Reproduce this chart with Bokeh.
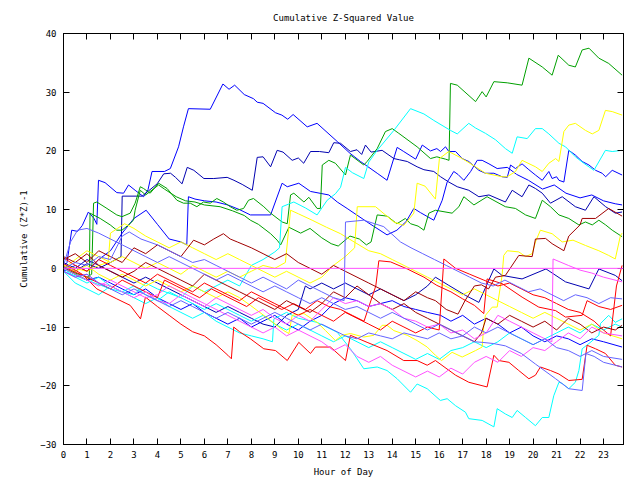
from bokeh.plotting import figure
from bokeh.models import Range1d, LinearAxis, FixedTicker, Span
from bokeh.embed import file_html
from bokeh.resources import INLINE

FONT = "DejaVu Sans Mono"

# ---- data (hour, value) vertices of each series ----
b1_h = [0, 0.15, 0.35, 0.6, 0.8, 1.06, 1.3, 1.42, 1.49, 1.77, 2.27, 2.56, 2.77, 3.05, 3.41, 3.6, 3.77, 4.3, 4.55, 4.9, 5.11, 5.32, 6.25, 6.79, 7.05, 7.29, 7.7, 8.09, 8.25, 8.5, 9.03, 9.3, 9.55, 9.78, 10.38, 10.8, 11.66, 12.2, 12.65, 13.36, 13.78, 14.21, 14.49, 15.0, 15.28, 15.63, 15.9, 16.06, 16.27, 16.41, 16.7, 16.98, 17.26, 17.69, 17.97, 18.33, 18.68, 18.9, 19.04, 19.25, 19.53, 19.82, 20.1, 20.39, 20.67, 20.81, 21.0, 21.1, 21.31, 21.52, 21.8, 22.09, 22.38, 22.66, 22.94, 23.09, 23.37, 23.79]
b1_v = [0.3, 1.0, 6.5, 6.3, 7.3, 9.6, 8.5, 7.5, 15.0, 14.6, 12.9, 12.8, 14.2, 13.3, 12.2, 13.4, 16.5, 16.5, 17.0, 20.7, 24.1, 27.2, 27.1, 31.4, 30.5, 31.2, 29.6, 28.9, 28.3, 28.1, 26.5, 26.1, 25.4, 26.2, 24.1, 24.7, 21.6, 19.6, 18.2, 16.2, 15.0, 20.6, 19.9, 18.6, 21.0, 20.0, 20.4, 19.9, 20.7, 19.9, 19.9, 18.7, 18.2, 16.7, 16.2, 16.2, 15.6, 15.5, 17.6, 17.0, 17.8, 16.8, 15.9, 15.0, 16.5, 15.3, 15.6, 15.0, 14.7, 20.1, 19.3, 18.2, 17.6, 16.7, 16.2, 15.6, 16.7, 15.9]

b2_h = [0, 0.5, 1.0, 1.5, 2.0, 2.45, 2.5, 3.35, 3.99, 4.27, 4.56, 4.77, 5.05, 5.27, 5.55, 5.98, 6.4, 6.97, 7.26, 7.61, 8.04, 8.25, 8.5, 8.82, 9.1, 9.35, 9.74, 10.0, 10.23, 10.52, 10.9, 11.3, 11.51, 11.8, 12.22, 12.5, 12.7, 12.86, 13.1, 13.57, 14.07, 14.3, 14.64, 15.06, 15.35, 15.77, 16.06, 16.41, 16.77, 17.26, 17.69, 18.12, 18.82, 19.11, 19.53, 19.82, 20.1, 20.39, 20.74, 21.24, 21.8, 22.23, 22.59, 23.09, 23.5, 23.79]
b2_v = [0.5, -0.5, 0.8, 0.0, 1.0, 2.0, 12.3, 12.3, 14.4, 16.1, 16.2, 15.5, 14.4, 17.2, 16.7, 15.3, 15.3, 15.5, 15.0, 14.3, 13.3, 18.9, 19.0, 17.3, 20.1, 19.8, 18.4, 18.8, 17.9, 19.9, 19.9, 19.7, 21.4, 21.3, 19.9, 20.2, 19.4, 21.0, 19.8, 20.1, 18.7, 18.5, 18.2, 17.3, 16.8, 16.5, 15.6, 14.7, 13.9, 13.3, 12.2, 12.5, 11.3, 13.3, 12.2, 14.2, 13.6, 12.8, 11.1, 12.2, 10.5, 9.9, 12.2, 10.5, 9.4, 9.6]

b3_h = [0, 0.5, 1.0, 1.5, 2.0, 2.5, 3.0, 3.52, 4.0, 4.5, 5.0, 5.25, 5.32, 5.6, 6.0, 6.5, 7.0, 7.5, 7.96, 8.82, 9.31, 9.53, 10.02, 10.52, 11.3, 11.66, 12.08, 12.93, 13.78, 14.2, 14.6, 14.92, 15.2, 15.77, 16.13, 16.34, 16.62, 16.8, 17.05, 17.34, 17.62, 17.83, 18.12, 18.47, 18.9, 19.3, 19.8, 20.4, 20.9, 21.4, 22.0, 22.5, 23.0, 23.5, 23.79]
b3_v = [-0.5, 0.5, -0.5, 1.5, 3.0, 6.0, 8.5, 9.9, 7.5, 5.0, 4.5, 4.0, 12.2, 11.8, 11.5, 11.3, 10.8, 10.0, 9.1, 9.1, 14.5, 13.9, 14.5, 13.1, 12.5, 11.3, 10.2, 7.9, 5.7, 6.5, 8.0, 10.2, 9.5, 8.2, 11.6, 14.7, 16.5, 16.0, 15.0, 16.5, 18.4, 18.4, 17.8, 17.0, 17.2, 16.0, 15.0, 13.5, 14.2, 12.8, 12.0, 12.5, 11.5, 11.0, 10.8]

b4_h = [0, 0.5, 1.0, 1.5, 2.0, 2.5, 3.0, 3.5, 4.0, 4.5, 5.0, 5.5, 6.0, 6.5, 7.0, 7.5, 8.0, 8.5, 9.0, 9.5, 10.0, 10.3, 10.5, 11.0, 11.5, 12.0, 12.5, 13.0, 13.5, 14.0, 14.5, 15.0, 15.5, 15.84, 16.41, 17.12, 17.69, 18.33, 18.68, 19.53, 20.55, 21.38, 22.38, 22.8, 23.5, 23.79]
b4_v = [1.0, 0.0, 1.5, 0.5, -0.5, -1.5, -2.5, -1.5, -2.5, -3.5, -4.5, -5.5, -6.5, -7.5, -6.5, -7.5, -8.5, -9.5, -10.0, -8.0, -7.0, -3.0, -3.5, -2.5, -3.5, -2.5, -3.5, -4.5, -3.5, -4.5, -5.5, -4.5, -3.0, -1.5, -2.9, -4.6, -5.8, -0.1, -1.2, -1.8, -0.1, -2.3, -3.5, -0.1, -1.2, -2.1]

b5_h = [0, 0.5, 1.0, 1.5, 2.0, 2.5, 3.0, 3.5, 4.0, 4.5, 5.0, 5.5, 6.0, 6.5, 7.0, 7.5, 8.0, 8.5, 9.0, 9.5, 10.0, 10.5, 11.0, 11.5, 12.0, 12.5, 13.0, 13.5, 14.0, 14.5, 15.0, 15.5, 16.06, 16.5, 17.0, 17.5, 18.0, 18.5, 19.0, 19.5, 20.0, 20.5, 21.0, 21.5, 22.0, 22.5, 23.0, 23.79]
b5_v = [0.0, -1.0, -2.0, -1.5, -2.5, -3.5, -4.5, -3.5, -5.0, -6.0, -7.0, -6.0, -7.5, -8.5, -9.5, -8.5, -10.0, -9.0, -8.0, -9.5, -10.5, -9.0, -8.0, -6.0, -5.0, -5.5, -6.5, -6.0, -5.5, -6.5, -7.0, -7.5, -8.0, -9.0, -8.0, -9.5, -8.5, -9.5, -11.0, -10.0, -11.5, -12.5, -11.5, -12.0, -13.0, -12.0, -12.5, -13.4]

g1_h = [0, 0.5, 1.0, 1.2, 1.28, 1.42, 1.85, 2.27, 2.49, 2.84, 3.05, 3.27, 3.41, 3.69, 4.05, 4.41, 4.83, 5.11, 5.4, 5.68, 5.96, 6.25, 6.53, 6.81, 7.1, 7.38, 7.67, 7.88, 8.09, 8.53, 8.82, 9.31, 9.53, 9.67, 9.81, 10.24, 10.45, 10.8, 10.94, 11.02, 11.3, 11.58, 12.01, 12.22, 12.79, 12.93, 13.36, 13.71, 14.0, 14.28, 15.06, 15.63, 15.9, 16.27, 16.42, 16.48, 16.77, 17.55, 17.83, 18.0, 18.33, 18.9, 19.53, 19.82, 20.39, 20.81, 21.07, 21.52, 21.8, 22.09, 22.38, 22.8, 23.22, 23.79]
g1_v = [0.0, -0.8, -1.5, -1.0, 11.1, 11.3, 10.2, 9.1, 8.8, 9.4, 11.1, 13.9, 13.6, 12.8, 14.5, 13.6, 11.6, 11.1, 11.1, 10.5, 11.3, 11.1, 11.9, 11.3, 10.5, 9.9, 10.2, 11.6, 11.9, 10.5, 9.4, 7.9, 7.6, 12.5, 12.8, 11.3, 12.1, 10.2, 10.2, 17.6, 18.4, 17.9, 15.9, 19.3, 17.6, 18.2, 20.4, 23.3, 23.8, 23.0, 20.7, 18.7, 19.0, 18.6, 18.4, 31.5, 31.2, 28.4, 30.1, 29.2, 31.8, 31.6, 31.2, 35.8, 34.3, 32.9, 36.3, 34.6, 34.3, 37.2, 37.5, 35.8, 34.9, 32.9]

g2_h = [0, 0.5, 1.0, 1.1, 1.13, 1.56, 1.99, 2.27, 2.49, 2.77, 2.98, 3.05, 3.27, 3.5, 4.05, 4.3, 4.8, 5.2, 5.6, 6.0, 6.67, 7.2, 7.7, 7.96, 8.3, 8.82, 9.1, 9.25, 9.6, 10.1, 10.5, 11.0, 11.4, 11.7, 12.2, 12.6, 12.9, 13.1, 13.36, 13.78, 14.2, 14.56, 14.78, 15.1, 15.35, 15.56, 15.84, 16.55, 16.84, 17.05, 17.48, 18.04, 18.82, 19.25, 19.68, 20.1, 20.39, 20.74, 21.1, 21.52, 21.95, 22.23, 22.52, 22.8, 23.09, 23.37, 23.79]
g2_v = [0.0, -1.0, -2.0, -1.5, 9.4, 8.5, 7.4, 6.5, 6.5, 7.4, 8.2, 9.9, 13.3, 12.5, 14.2, 13.5, 12.2, 11.5, 11.3, 10.8, 10.5, 9.8, 9.0, 8.2, 7.5, 5.9, 4.8, 4.0, 7.0, 6.0, 6.8, 5.2, 4.2, 3.8, 5.5, 5.0, 4.0, 4.5, 9.1, 8.9, 7.6, 8.5, 7.6, 7.2, 6.5, 9.4, 9.9, 9.4, 10.5, 12.2, 10.8, 12.2, 10.5, 10.2, 9.1, 8.5, 11.6, 10.5, 9.1, 8.5, 7.4, 7.9, 7.4, 8.2, 7.4, 6.5, 5.4]

c1_h = [0, 1.0, 2.0, 3.0, 3.5, 4.0, 5.0, 5.5, 6.0, 7.0, 7.5, 8.0, 8.5, 9.0, 9.2, 9.31, 9.81, 10.3, 10.8, 11.23, 11.58, 11.8, 12.01, 12.3, 12.79, 13.0, 13.36, 14.07, 14.78, 15.35, 15.77, 16.48, 16.77, 17.26, 17.55, 17.97, 18.4, 18.82, 19.11, 19.32, 19.75, 20.1, 20.39, 20.67, 21.1, 21.38, 21.8, 22.16, 22.59, 23.08, 23.37, 23.79]
c1_v = [-0.5, -2.0, -3.5, -4.5, -2.5, -3.5, -5.0, -3.0, -4.0, -2.0, -3.0, 0.5, 1.5, 2.8, 3.5, 10.5, 11.3, 10.3, 9.1, 11.6, 12.7, 13.8, 17.2, 16.3, 15.3, 18.1, 20.1, 23.5, 27.2, 26.3, 25.2, 23.5, 22.9, 24.7, 23.9, 23.0, 21.9, 20.4, 19.6, 22.4, 22.1, 23.8, 23.8, 22.9, 21.3, 20.7, 19.0, 17.9, 16.7, 20.1, 19.9, 20.1]

c2_h = [0, 0.5, 1.0, 1.5, 2.0, 2.5, 3.0, 3.5, 4.0, 4.5, 5.0, 5.5, 6.0, 6.5, 7.0, 7.5, 8.0, 8.5, 8.9, 8.96, 9.5, 10.0, 10.8, 11.66, 12.22, 12.79, 13.36, 13.78, 14.21, 14.78, 15.06, 15.49, 16.05, 16.34, 16.7, 17.12, 17.26, 17.83, 18.33, 18.47, 18.82, 19.11, 19.32, 19.68, 20.1, 20.39, 20.67, 20.88, 21.1, 21.24, 21.52, 21.8, 21.95, 22.09, 22.38, 22.8, 22.87, 23.22, 23.5, 23.79]
c2_v = [-0.5, -2.5, -3.5, -4.5, -3.0, -4.0, -5.0, -6.0, -5.0, -6.5, -7.5, -8.5, -7.5, -9.0, -10.0, -11.0, -11.5, -12.0, -12.5, -8.6, -7.5, -8.5, -9.2, -10.9, -13.7, -17.1, -16.8, -17.4, -18.8, -21.1, -19.7, -20.5, -22.5, -22.2, -23.4, -24.5, -25.6, -25.9, -27.0, -23.9, -24.8, -25.4, -24.2, -25.4, -26.8, -25.4, -25.4, -21.7, -19.4, -19.6, -20.5, -19.4, -17.4, -13.7, -12.8, -11.4, -9.4, -8.0, -9.2, -8.6]

c3_h = [0, 0.5, 1.0, 1.5, 2.0, 2.5, 3.0, 3.5, 4.0, 4.5, 5.0, 5.5, 6.0, 6.5, 7.0, 7.5, 8.0, 8.5, 9.0, 9.5, 10.0, 10.5, 11.0, 11.5, 12.0, 12.5, 13.0, 13.5, 14.0, 14.5, 15.0, 15.5, 16.0, 16.5, 17.0, 17.5, 18.0, 18.5, 19.0, 19.5, 20.0, 20.5, 21.0, 21.5, 22.0, 22.5, 23.0, 23.5, 23.79]
c3_v = [0.0, -1.5, -2.5, -1.5, -3.0, -4.0, -3.0, -4.5, -5.5, -4.0, -5.0, -6.0, -7.0, -6.0, -7.0, -8.0, -9.0, -8.0, -9.5, -10.5, -9.5, -10.5, -11.5, -12.5, -11.5, -12.5, -13.5, -12.5, -13.5, -14.5, -15.5, -14.5, -15.5, -14.0, -13.5, -12.5, -13.5, -12.5, -11.0, -12.0, -13.0, -12.0, -11.0, -10.0, -11.0, -9.5, -10.5, -9.5, -10.0]

y1_h = [0, 0.5, 1.0, 1.5, 1.9, 2.0, 2.3, 2.6, 3.0, 3.5, 4.0, 4.5, 5.0, 5.5, 6.0, 6.5, 7.0, 7.5, 8.0, 8.5, 9.0, 9.5, 10.0, 10.5, 11.0, 11.5, 12.0, 12.4, 12.51, 13.29, 14.07, 14.49, 14.92, 15.06, 15.4, 15.84, 16.01, 16.41, 16.98, 17.55, 17.97, 18.68, 18.9, 19.25, 19.53, 20.1, 20.39, 20.67, 20.96, 21.1, 21.31, 21.52, 21.8, 22.23, 22.52, 22.8, 23.08, 23.37, 23.79]
y1_v = [0.5, 0.0, -0.5, 0.5, 1.0, 6.0, 6.8, 7.6, 6.8, 5.5, 4.5, 3.5, 4.5, 3.5, 2.5, 1.5, 2.5, 1.5, 0.5, -0.5, -1.5, -0.5, -1.5, -2.5, -1.5, 0.5, 2.0, 3.5, 10.5, 10.5, 7.9, 7.3, 9.4, 14.5, 14.0, 11.8, 18.7, 19.9, 18.7, 17.3, 16.2, 15.6, 15.6, 16.5, 18.4, 17.3, 16.5, 17.9, 18.7, 18.2, 23.3, 24.4, 24.7, 23.5, 22.9, 23.5, 26.9, 26.7, 26.1]

y2_h = [0, 0.5, 1.0, 1.5, 2.0, 2.5, 3.0, 3.5, 4.0, 4.5, 5.0, 5.5, 6.0, 6.5, 7.0, 7.5, 8.0, 8.5, 9.0, 9.45, 9.67, 10.0, 10.59, 11.2, 11.8, 12.5, 13.0, 13.5, 14.0, 14.5, 15.0, 15.5, 16.0, 16.5, 17.0, 17.5, 18.0, 18.5, 19.0, 19.5, 20.0, 20.5, 21.0, 21.5, 22.0, 22.5, 23.0, 23.79]
y2_v = [0.0, 1.5, 3.0, 2.0, 1.0, 2.0, 1.0, 0.0, 1.0, 0.0, -1.0, 0.5, -0.5, -1.5, -0.5, -1.5, -0.5, 0.5, 0.0, 1.0, 9.9, 9.3, 8.2, 7.0, 5.9, 4.2, 3.0, 2.5, 1.5, 0.5, -0.5, -1.5, -2.5, -3.5, -4.5, -3.5, -4.5, -5.5, -6.5, -7.5, -8.5, -7.5, -8.5, -9.5, -10.5, -9.5, -11.0, -12.0]

y3_h = [0, 0.5, 1.0, 1.5, 2.0, 2.5, 3.0, 3.5, 4.0, 4.5, 5.0, 5.5, 6.0, 6.5, 7.0, 7.5, 7.96, 8.82, 9.38, 9.6, 9.74, 10.24, 10.8, 11.16, 11.58, 11.87, 12.22, 12.79, 13.22, 13.57, 13.78, 14.07, 14.64, 15.06, 15.49, 15.84, 16.1, 16.55, 16.98, 17.55, 17.83, 17.9, 17.97, 18.26, 18.47, 18.68, 18.75, 18.9, 19.39, 19.68, 19.96, 20.1, 20.31, 20.81, 21.24, 21.7, 22.23, 22.8, 23.22, 23.5, 23.72, 23.79]
y3_v = [0.5, -0.5, 0.5, -1.0, -2.0, -1.0, -2.0, -3.0, -2.0, -3.0, -4.0, -3.0, -4.0, -5.0, -4.0, -5.0, -6.3, -8.9, -10.6, -11.1, -8.0, -7.7, -9.2, -10.6, -12.3, -11.4, -11.1, -11.7, -11.4, -9.7, -9.7, -10.6, -11.4, -12.3, -13.4, -14.8, -15.7, -14.3, -15.1, -14.0, -13.4, -9.7, -8.0, -6.6, -6.6, -1.2, 2.2, 3.0, 2.8, 2.0, 2.5, 4.5, 6.5, 5.9, 4.5, 4.8, 3.9, 3.0, 2.2, 1.6, 5.6, 6.0]

r1_h = [0, 0.4, 0.85, 1.42, 2.27, 2.84, 3.28, 3.49, 4.0, 4.5, 5.0, 5.5, 6.0, 6.5, 7.0, 7.15, 7.25, 7.5, 7.96, 8.53, 9.03, 9.53, 10.02, 10.52, 10.73, 11.37, 12.01, 12.22, 12.93, 13.78, 14.49, 15.06, 15.49, 15.84, 16.7, 17.26, 18.04, 18.33, 18.54, 18.97, 19.39, 19.82, 20.1, 20.31, 20.74, 21.1, 21.52, 22.09, 22.3, 22.66, 23.08, 23.5, 23.79]
r1_v = [0.3, -0.5, -1.2, -3.5, -5.2, -6.3, -8.6, -4.9, -6.5, -8.0, -9.5, -10.8, -11.5, -13.0, -14.8, -15.4, -10.0, -10.8, -12.0, -13.7, -14.0, -15.7, -12.6, -14.5, -13.4, -13.4, -15.7, -11.4, -12.6, -14.0, -15.7, -15.7, -16.5, -15.7, -18.2, -19.4, -20.2, -14.8, -15.7, -16.0, -17.4, -18.8, -18.2, -16.8, -17.4, -18.0, -19.1, -18.9, -13.1, -13.7, -14.5, -16.5, -16.8]

r2_h = [0, 0.5, 1.0, 1.5, 2.0, 2.5, 3.0, 3.5, 4.0, 4.3, 4.8, 5.3, 5.8, 6.3, 6.8, 7.3, 7.8, 8.3, 8.8, 9.3, 9.8, 10.3, 10.8, 11.3, 11.8, 12.3, 12.8, 13.3, 13.43, 13.93, 14.64, 15.35, 15.9, 16.5, 17.0, 17.5, 17.9, 18.04, 18.68, 19.53, 20.24, 20.96, 21.38, 22.09, 22.3, 22.8, 23.3, 23.79]
r2_v = [0.8, -0.3, -1.5, -2.5, -3.5, -2.0, -3.0, -4.0, -5.0, -2.0, -3.0, -4.0, -5.0, -3.5, -4.5, -5.5, -6.5, -5.0, -6.0, -7.0, -6.0, -7.0, -5.5, -6.5, -7.0, -8.0, -9.0, -3.0, 1.3, 1.1, -0.1, -1.5, -2.9, -4.0, -5.2, -6.3, -7.7, -1.8, -2.6, -4.9, -6.6, -7.2, -8.3, -8.0, -5.5, -6.5, -7.0, -6.3]

r3_h = [0, 0.5, 1.0, 1.5, 2.0, 2.5, 3.0, 3.5, 4.0, 4.5, 5.0, 5.5, 6.0, 6.5, 7.0, 7.5, 8.0, 8.5, 9.0, 9.5, 10.0, 10.5, 11.0, 11.5, 12.0, 12.5, 13.0, 13.5, 14.0, 14.5, 15.0, 15.5, 16.0, 16.2, 16.7, 17.3, 17.9, 18.5, 19.0, 19.5, 20.0, 20.5, 21.0, 21.5, 22.0, 22.6, 23.0, 23.3, 23.55, 23.79]
r3_v = [1.8, 0.5, -0.5, 1.5, 0.5, -0.5, -1.5, -2.5, -1.0, -2.0, -3.0, -4.0, -2.5, -3.5, -4.5, -5.5, -4.0, -5.0, -6.0, -7.0, -8.0, -7.0, -8.0, -9.0, -7.5, -8.5, -9.5, -10.5, -9.0, -10.0, -11.0, -10.0, -10.5, 1.6, 0.0, -1.0, -2.0, -3.0, -2.5, -3.5, -4.5, -5.0, -6.0, -7.0, -7.5, -9.0, -10.5, -11.5, -3.0, 0.5]

dr1_h = [0, 0.5, 1.0, 1.5, 2.0, 2.5, 3.0, 3.5, 4.0, 4.5, 5.0, 5.54, 6.0, 6.4, 6.81, 7.1, 7.4, 8.0, 8.5, 9.0, 9.5, 10.0, 10.5, 11.0, 11.5, 12.0, 12.5, 13.0, 13.5, 14.0, 14.5, 15.0, 15.5, 15.84, 16.3, 16.8, 17.1, 17.5, 17.8, 18.1, 18.4, 18.82, 19.39, 19.96, 20.1, 20.53, 20.81, 21.31, 21.52, 22.0, 22.09, 22.66, 23.22, 23.79]
dr1_v = [1.5, 2.5, 1.0, 3.0, 2.0, 1.0, 3.5, 2.5, 4.0, 3.0, 2.0, 4.8, 4.0, 5.0, 5.9, 5.0, 4.5, 3.5, 2.5, 1.5, 2.5, 1.0, 0.0, -1.0, 0.5, -0.5, -1.5, -2.5, -3.5, -4.5, -5.5, -4.0, -5.0, -5.5, -7.0, -7.8, -5.5, -3.0, -2.8, -3.5, -1.5, -1.2, 2.2, 2.0, 5.0, 5.1, 4.2, 3.0, 5.5, 7.4, 8.5, 8.5, 10.2, 8.9]

dr2_h = [0, 0.5, 1.0, 1.5, 2.0, 2.5, 3.0, 3.5, 4.0, 4.5, 5.0, 5.5, 6.0, 6.5, 7.0, 7.5, 8.0, 8.5, 9.0, 9.5, 10.0, 10.5, 11.0, 11.5, 12.0, 12.5, 13.0, 13.5, 14.0, 14.5, 15.0, 15.5, 16.0, 16.5, 17.0, 17.5, 17.8, 18.0, 18.5, 19.0, 19.5, 20.0, 20.5, 21.0, 21.5, 22.0, 22.5, 23.0, 23.5, 23.79]
dr2_v = [2.0, 1.0, 2.5, 0.5, -0.5, -1.5, -0.5, 1.0, 0.0, -1.0, -2.0, -3.0, -1.0, -2.0, -3.0, -4.0, -5.0, -6.0, -7.0, -5.5, -6.5, -7.5, -6.0, -4.0, -5.0, -3.0, -4.5, -6.0, -7.0, -6.0, -7.5, -8.5, -9.5, -10.5, -11.5, -12.5, -11.0, -8.5, -9.5, -8.0, -9.0, -10.0, -9.0, -10.5, -8.5, -9.5, -11.0, -10.0, -10.5, -9.7]

m1_h = [0, 0.5, 1.0, 1.5, 2.0, 2.5, 3.0, 3.5, 4.0, 4.5, 5.0, 5.5, 6.0, 6.5, 7.0, 7.5, 8.0, 8.5, 9.0, 9.5, 10.0, 10.5, 11.0, 11.5, 12.0, 12.5, 13.0, 13.5, 14.0, 14.5, 15.0, 15.5, 16.0, 16.5, 17.0, 17.5, 18.0, 18.5, 19.0, 19.5, 20.0, 20.5, 20.8, 20.85, 21.5, 22.0, 22.5, 23.0, 23.79]
m1_v = [-0.5, -1.5, -1.0, -2.5, -3.0, -4.0, -5.0, -4.0, -5.5, -6.0, -4.5, -5.5, -6.5, -5.0, -6.0, -7.0, -8.0, -7.0, -8.5, -9.5, -8.0, -9.0, -7.0, -5.0, -6.0, -5.5, -6.5, -6.0, -7.0, -8.5, -9.0, -10.0, -9.5, -11.0, -10.5, -12.0, -11.0, -8.0, -9.0, -10.0, -11.0, -12.0, -12.5, 1.6, 0.5, -0.3, -0.8, -1.5, -2.3]

m2_h = [0, 0.5, 1.0, 1.5, 2.0, 2.5, 3.0, 3.5, 4.0, 4.5, 5.0, 5.5, 6.0, 6.5, 7.0, 7.5, 8.0, 8.5, 9.0, 9.5, 10.0, 10.5, 11.0, 11.5, 12.0, 12.5, 13.0, 13.5, 14.0, 14.5, 15.0, 15.5, 16.0, 16.5, 17.0, 17.5, 18.0, 18.5, 19.0, 19.5, 20.0, 20.5, 21.0, 21.5, 22.0, 22.5, 23.0, 23.79]
m2_v = [0.0, -1.0, -2.0, -3.0, -2.0, -3.0, -4.0, -5.0, -4.5, -3.0, -4.0, -5.0, -6.0, -7.0, -8.0, -9.0, -10.0, -11.0, -10.0, -11.5, -10.5, -11.5, -12.5, -14.0, -13.0, -15.0, -16.0, -15.0, -16.5, -17.5, -18.5, -17.5, -18.5, -17.0, -18.0, -16.0, -15.0, -16.0, -14.0, -15.0, -13.5, -14.0, -12.5, -11.0, -12.0, -10.0, -11.0, -11.5]

lb1_h = [0, 0.3, 0.6, 1.0, 1.5, 2.0, 2.5, 3.0, 3.5, 4.0, 4.5, 5.0, 5.5, 6.0, 6.5, 7.0, 7.5, 8.0, 8.5, 9.0, 9.5, 10.0, 10.5, 11.0, 11.5, 12.0, 12.5, 13.0, 13.5, 14.0, 14.5, 15.0, 15.5, 16.0, 16.5, 17.0, 17.5, 18.0, 18.5, 19.0, 19.5, 20.0, 20.5, 21.0, 21.5, 22.0, 22.5, 23.0, 23.79]
lb1_v = [0.5, 4.5, 6.5, 6.8, 6.0, 5.0, 4.0, 3.0, 2.0, 1.0, 2.0, 1.0, 0.0, -1.0, -2.0, -1.0, -2.0, -3.0, -4.0, -3.0, -4.0, -5.0, -6.0, -5.0, -6.0, -7.0, -6.5, -7.5, -8.5, -7.5, -8.5, -9.5, -10.5, -9.5, -10.5, -11.5, -10.0, -11.0, -10.0, -11.0, -12.0, -13.0, -12.0, -13.5, -14.0, -15.0, -14.0, -15.0, -15.5]

lb2_h = [0, 0.5, 1.0, 1.5, 2.0, 2.5, 3.0, 3.5, 4.0, 4.5, 5.0, 5.5, 6.0, 6.5, 7.0, 7.5, 8.0, 8.5, 9.0, 9.5, 10.0, 10.5, 11.0, 11.5, 12.0, 12.5, 13.0, 13.5, 14.0, 14.5, 15.0, 15.5, 16.0, 16.5, 17.0, 17.5, 17.83, 18.3, 18.82, 19.5, 20.1, 20.96, 21.52, 22.09, 22.25, 22.6, 23.0, 23.5, 23.79]
lb2_v = [-0.5, -1.5, -1.0, -2.5, -3.5, -4.5, -3.5, -4.5, -5.5, -6.5, -5.5, -6.5, -7.5, -8.5, -7.5, -8.5, -9.5, -8.5, -7.5, -8.5, -9.5, -10.5, -9.5, -10.5, -11.5, -12.0, -11.0, -11.5, -12.0, -11.0, -11.5, -12.0, -11.0, -12.0, -11.5, -12.5, -12.6, -12.8, -13.2, -14.5, -16.3, -18.8, -20.5, -20.8, -14.5, -15.0, -16.0, -16.5, -16.8]

lb3_h = [0, 0.5, 1.0, 1.5, 2.0, 2.5, 2.8, 3.3, 4.0, 4.5, 5.0, 5.5, 6.0, 6.5, 7.0, 7.5, 8.0, 8.5, 9.0, 9.5, 10.0, 10.5, 11.0, 11.5, 11.95, 12.01, 12.79, 13.64, 14.35, 14.8, 15.3, 15.8, 16.3, 16.8, 17.3, 17.8, 18.3, 18.8, 19.3, 19.8, 20.3, 20.8, 21.3, 21.8, 22.3, 22.8, 23.3, 23.79]
lb3_v = [0.0, 1.0, 0.5, 2.0, 1.5, 5.5, 6.2, 5.0, 4.0, 3.0, 2.0, 1.0, 1.5, 0.5, -0.5, -1.5, -2.5, -1.5, -2.5, -3.5, -2.0, -3.0, -4.0, -5.0, -5.5, 7.9, 8.2, 7.1, 4.5, 3.5, 2.5, 1.5, 0.5, -0.5, -1.5, -2.5, -3.0, -2.0, -3.0, -4.0, -3.5, -4.5, -5.5, -4.5, -5.0, -6.0, -5.0, -5.2]

BLUE = "#0000ff"
NAVY = "#0000b0"
LBLUE = "#6464ff"
GREEN = "#00a000"
CYAN = "#00ffff"
YELLOW = "#ffff00"
RED = "#ff0000"
DRED = "#a00000"
MAGENTA = "#ff50ff"

series = [
    (b1_h, b1_v, BLUE), (b2_h, b2_v, NAVY), (b3_h, b3_v, BLUE), (b4_h, b4_v, NAVY),
    (b5_h, b5_v, BLUE), (g1_h, g1_v, GREEN), (g2_h, g2_v, GREEN),
    (c1_h, c1_v, CYAN), (c2_h, c2_v, CYAN), (c3_h, c3_v, CYAN),
    (y1_h, y1_v, YELLOW), (y2_h, y2_v, YELLOW), (y3_h, y3_v, YELLOW),
    (r1_h, r1_v, RED), (r2_h, r2_v, RED), (r3_h, r3_v, RED),
    (dr1_h, dr1_v, DRED), (dr2_h, dr2_v, DRED),
    (m1_h, m1_v, MAGENTA), (m2_h, m2_v, MAGENTA),
    (lb1_h, lb1_v, LBLUE), (lb2_h, lb2_v, LBLUE), (lb3_h, lb3_v, LBLUE),
]

hour_ticks = list(range(24))
value_ticks = [-30, -20, -10, 0, 10, 20, 30, 40]

p = figure(width=640, height=480, output_backend="svg", toolbar_location=None,
           x_range=Range1d(0, 23.85), y_range=Range1d(-30, 40),
           min_border_left=63, min_border_right=17, min_border_top=33, min_border_bottom=36,
           x_axis_type=None, y_axis_type=None)
p.title.text = "Cumulative Z-Squared Value"
p.title.align = "center"
p.title.text_font = FONT
p.title.text_font_size = "9px"
p.title.text_font_style = "normal"
p.title.text_color = "black"
p.title.standoff = 21
p.xgrid.visible = False
p.ygrid.visible = False
p.outline_line_color = "black"
p.outline_line_width = 1
p.background_fill_color = "white"
p.border_fill_color = "white"

def style_axis(ax, labels=True):
    ax.axis_line_color = "black"
    ax.major_tick_line_color = "black"
    ax.major_tick_in = 6
    ax.major_tick_out = 0
    ax.minor_tick_line_color = None
    ax.major_label_text_font = FONT
    ax.major_label_text_font_size = "9px"
    ax.major_label_text_color = "black"
    ax.axis_label_text_font = FONT
    ax.axis_label_text_font_size = "9px"
    ax.axis_label_text_font_style = "normal"
    ax.axis_label_text_color = "black"
    if not labels:
        ax.major_label_text_font_size = "0px"
        ax.major_label_text_alpha = 0

xb = LinearAxis(ticker=FixedTicker(ticks=hour_ticks), axis_label="Hour of Day")
style_axis(xb)
xb.major_label_standoff = 6
xb.axis_label_standoff = 6
p.add_layout(xb, "below")

xt = LinearAxis(ticker=FixedTicker(ticks=hour_ticks))
style_axis(xt, labels=False)
p.add_layout(xt, "above")

yl = LinearAxis(ticker=FixedTicker(ticks=value_ticks), axis_label="Cumulative (Z*Z)-1")
style_axis(yl)
yl.major_label_standoff = 7
yl.axis_label_standoff = 8
p.add_layout(yl, "left")

yr = LinearAxis(ticker=FixedTicker(ticks=value_ticks))
style_axis(yr, labels=False)
p.add_layout(yr, "right")

p.add_layout(Span(location=0, dimension="width", line_color=MAGENTA, line_width=1))

for hs, vs, col in series:
    p.line(hs, vs, line_color=col, line_width=1)

open("out.html", "w").write(file_html(p, INLINE))
